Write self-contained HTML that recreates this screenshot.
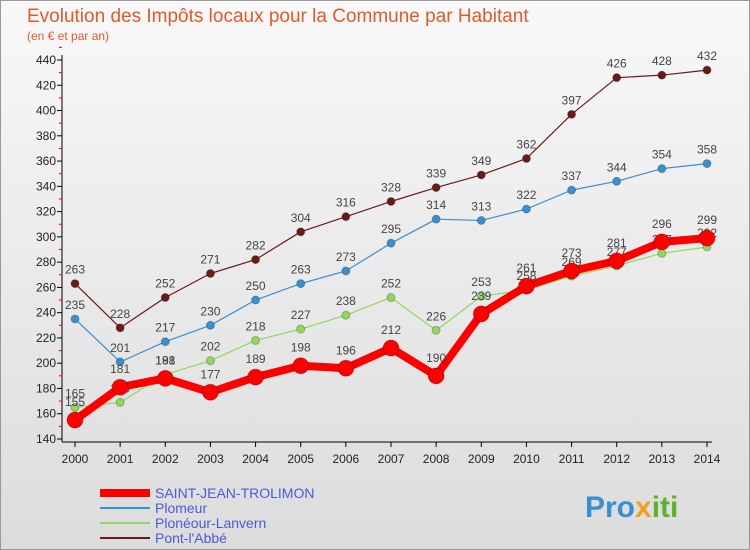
<!DOCTYPE html>
<html><head><meta charset="utf-8"><style>
body{margin:0;width:750px;height:550px;overflow:hidden;font-family:"Liberation Sans",sans-serif}
#c{position:absolute;left:0;top:0;width:748px;height:548px;border:1px solid #999;background:linear-gradient(#f8f8f8,#dcdcdc)}
</style></head><body>
<div id="c"></div>
<svg id="s" width="750" height="550" style="position:absolute;left:0;top:0">
<text x="27" y="22" font-size="19" fill="#e05a2a">Evolution des Impôts locaux pour la Commune par Habitant</text>
<text x="27" y="40" font-size="12" fill="#e05a2a">(en € et par an)</text>
<text x="585" y="517" font-size="30" font-weight="bold" fill="#3a8fd0">Pro<tspan fill="#f0a020">x</tspan><tspan fill="#60b030">iti</tspan></text>
</svg>
<script>
const years=[2000,2001,2002,2003,2004,2005,2006,2007,2008,2009,2010,2011,2012,2013,2014];
const yTicks=[140,160,180,200,220,240,260,280,300,320,340,360,380,400,420,440];
const saint=[155,181,188,177,189,198,196,212,190,239,261,273,281,296,299];
const plomeur=[235,201,217,230,250,263,273,295,314,313,322,337,344,354,358];
const ploneour=[165,169,191,202,218,227,238,252,226,253,258,269,277,287,292];
const pont=[263,228,252,271,282,304,316,328,339,349,362,397,426,428,432];
const series=[
 {name:'Pont-l\'Abbé',d:pont,c:'#6b1a1a',w:1.2,r:4,k:'pont-labbe'},
 {name:'Plomeur',d:plomeur,c:'#3a8fd0',w:1.2,r:4,k:'plomeur'},
 {name:'Plonéour-Lanvern',d:ploneour,c:'#90d860',w:1.2,r:4,k:'ploneour-lanvern'},
 {name:'SAINT-JEAN-TROLIMON',d:saint,c:'#ff0000',w:8,r:8,k:'saint-jean-trolimon'}];
const X=i=>75+i*(707-75)/(years.length-1);
const Y=v=>439-(v-140)*(439-60)/300;
const s=document.getElementById('s');const NS='http://www.w3.org/2000/svg';
function mk(t,a,p){const e=document.createElementNS(NS,t);for(const k in a)e.setAttribute(k,a[k]);(p||s).appendChild(e);return e;}
let ax=mk('line',{x1:62,y1:55,x2:62,y2:442,stroke:'#000'});


let bx=mk('line',{x1:62,y1:442,x2:712,y2:442,stroke:'#000'});


yTicks.forEach(v=>{mk('line',{x1:57,y1:Y(v),x2:62,y2:Y(v),stroke:'#000'});
 mk('line',{x1:59,y1:Y(v+10),x2:62,y2:Y(v+10),stroke:'#e00'});
 const t=mk('text',{x:56,y:Y(v)+4,'font-size':12,'text-anchor':'end',fill:'#222'});t.textContent=v;
 
 });
years.forEach((y,i)=>{mk('line',{x1:X(i),y1:442,x2:X(i),y2:447,stroke:'#000'});
 const t=mk('text',{x:X(i),y:463,'font-size':12,'text-anchor':'middle',fill:'#222'});t.textContent=y;
 
 });
series.forEach(se=>{
 const g=mk('g',{});
 
 
 mk('polyline',{points:se.d.map((v,i)=>X(i)+','+Y(v)).join(' '),fill:'none',stroke:se.c,'stroke-width':se.w,'stroke-linejoin':'round'},g);
 se.d.forEach((v,i)=>{const p=mk('circle',{cx:X(i),cy:Y(v),r:se.r,fill:se.c,stroke:'rgba(0,0,0,0.25)'},g);
  
  
  const t=mk('text',{x:X(i),y:Y(v)-(se.r>5?14:10),'font-size':12,'text-anchor':'middle',fill:'#444'},g);t.textContent=v;});
});
const leg=[['SAINT-JEAN-TROLIMON','#ff0000',8],['Plomeur','#3a8fd0',2],['Plonéour-Lanvern','#90d860',2],['Pont-l\'Abbé','#6b1a1a',2]];
leg.forEach((l,i)=>{const y=493+i*15;
 const g=mk('g',{});
 
 
 mk('line',{x1:100,y1:y,x2:150,y2:y,stroke:l[1],'stroke-width':l[2]},g);
 const t=mk('text',{x:155,y:y+5,'font-size':14,fill:'#4a5ad8'},g);t.textContent=l[0];});
</script>
</body></html>
